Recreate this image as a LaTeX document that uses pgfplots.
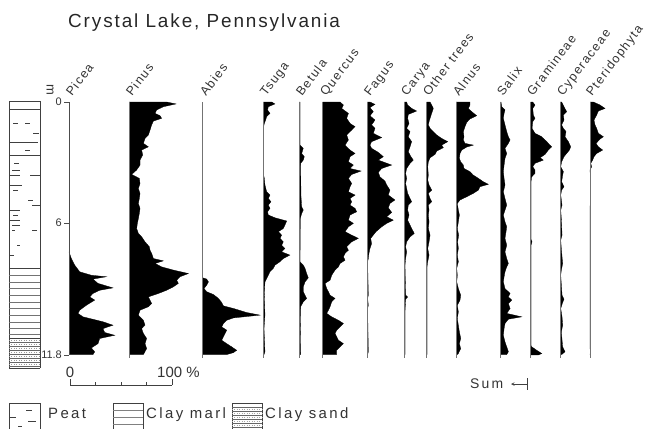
\documentclass[border=0pt]{standalone}
\usepackage{pgfplots}
\pgfplotsset{compat=1.18}
\usepackage{fontspec}
\setmainfont{Liberation Sans}
\newfontfamily\titlefont[LetterSpace=10]{Liberation Sans}
\newfontfamily\lblfont[LetterSpace=11]{Liberation Sans}
\newfontfamily\legfont[LetterSpace=16]{Liberation Sans}

\pgfplotsset{
  pollen/.style={anchor=origin, hide axis, clip=false, scale only axis,
    x=1.02bp, y=21.44bp, xmin=0, xmax=40, ymin=0, ymax=11.8, y dir=reverse},
  pfill/.style={fill=black, draw=black, line width=0.3pt},
}
\tikzset{base/.style={draw=black!55, line width=0.6pt},
  taxon/.style={rotate=53, anchor=base west, inner sep=0pt, text=black!80,
    font=\lblfont\fontsize{12.5}{15}\selectfont}}

\begin{document}
\begin{tikzpicture}
\path[use as bounding box] (0bp,0bp) rectangle (647bp,-429bp);

% Picea
\begin{axis}[pollen, at={(69bp,-102bp)}]
\addplot[pfill] coordinates {(0,6.99)(2.3,7.30)(5.6,7.61)(10.5,7.92)(21.9,8.08)(36.6,8.15)(23.5,8.26)(28.4,8.46)(43.1,8.67)(30.1,8.78)(23.5,8.93)(20.3,9.09)(25.2,9.24)(17,9.48)(10.5,9.71)(8.8,9.86)(13.7,10.02)(33.3,10.25)(43.1,10.41)(33.3,10.57)(35,10.75)(44.8,10.88)(30.1,11.03)(28.4,11.27)(21.9,11.47)(25.2,11.65)(23.5,11.78)(0,11.78)};
\end{axis}

% Pinus
\begin{axis}[pollen, at={(129bp,-102bp)}]
\addplot[pfill] coordinates {(0,0)(36.9,0)(46.1,0.09)(33.7,0.22)(27.1,0.37)(25.5,0.53)(30.4,0.64)(32,0.76)(23.9,0.89)(22.2,1.07)(20.6,1.31)(19,1.54)(15.7,1.70)(14.1,1.93)(19,2.09)(12.4,2.24)(13.4,2.47)(10.8,2.71)(10.8,2.94)(7.5,3.17)(2.6,3.38)(10.1,3.56)(10.8,3.80)(9.2,4.03)(10.8,4.26)(10.1,4.50)(9.2,4.73)(10.8,4.96)(10.1,5.20)(9.2,5.43)(8.2,5.66)(7.5,5.90)(9.2,6.13)(12.4,6.29)(15.7,6.52)(19.9,6.75)(20.6,6.91)(22.2,7.06)(23.9,7.30)(33.7,7.41)(25.5,7.53)(32,7.69)(43.5,7.84)(58.2,8.00)(50,8.15)(46.7,8.31)(48.4,8.46)(43.5,8.62)(36.9,8.78)(28.8,8.93)(19,9.09)(20.6,9.24)(22.2,9.40)(19,9.55)(10.8,9.71)(9.2,9.94)(14.1,10.18)(15.7,10.41)(12.4,10.57)(14.1,10.80)(17.3,11.03)(15.7,11.27)(17.3,11.50)(14.1,11.78)(0,11.78)};
\draw[base] (axis cs:0,0) -- (axis cs:0,11.95);
\end{axis}

% Abies
\begin{axis}[pollen, at={(202.7bp,-102bp)}]
\addplot[pfill] coordinates {(0,8.20)(3.9,8.26)(5.6,8.39)(3.9,8.54)(1.3,8.70)(3.9,8.85)(10.5,8.98)(15.4,9.16)(18.6,9.35)(20.3,9.51)(30.1,9.63)(43.1,9.82)(56.2,9.94)(30.1,10.07)(23.5,10.18)(20.3,10.33)(18.6,10.49)(23.5,10.64)(21.9,10.80)(20.3,10.95)(18.6,11.11)(23.5,11.27)(28.4,11.42)(33.3,11.58)(30.1,11.69)(23.5,11.78)(0,11.78)};
\draw[base] (axis cs:0,0) -- (axis cs:0,11.95);
\end{axis}

% Tsuga
\begin{axis}[pollen, at={(263.3bp,-102bp)}]
\addplot[pfill] coordinates {(0,0)(8.2,0)(11.4,0.09)(4.9,0.22)(4.2,0.37)(6.5,0.53)(3.3,0.68)(2.3,0.84)(1,1.00)(0.3,1.15)(0.3,3.41)(1,3.56)(1.6,3.87)(3.3,4.19)(6.5,4.34)(4.9,4.50)(7.5,4.65)(4.9,4.81)(6.5,4.96)(4.2,5.12)(4.9,5.27)(11.4,5.40)(22.9,5.55)(21.2,5.74)(19.6,5.90)(14.7,6.05)(18,6.21)(16.3,6.36)(19.6,6.52)(18,6.68)(21.2,6.83)(18,6.99)(26.1,7.14)(19.6,7.30)(16.3,7.45)(11.4,7.61)(9.8,7.76)(6.5,7.92)(4.9,8.08)(3.3,8.23)(1.6,8.39)(1,9.01)(1.6,9.94)(0.7,10.57)(1.6,11.65)(0.7,11.78)(0,11.78)};
\draw[base] (axis cs:0,0) -- (axis cs:0,11.95);
\end{axis}

% Betula
\begin{axis}[pollen, at={(299.3bp,-102bp)}]
\addplot[pfill] coordinates {(0,0)(0.7,0)(0.7,2.01)(3.9,2.16)(2.3,2.40)(4.9,2.55)(3.9,2.71)(1.3,2.86)(1.6,4.34)(2.3,4.89)(3.9,5.04)(2.3,5.20)(1,5.43)(0.7,7.45)(3.9,7.61)(5.6,7.76)(7.2,8.00)(8.8,8.20)(5.6,8.39)(3.9,8.62)(3.9,8.85)(5.6,9.01)(7.2,9.16)(3.9,9.32)(1.3,9.55)(1,10.57)(1.3,11.78)(0,11.78)};
\draw[base] (axis cs:0,0) -- (axis cs:0,11.95);
\end{axis}

% Quercus
\begin{axis}[pollen, at={(322.7bp,-102bp)}]
\addplot[pfill] coordinates {(0,0)(17,0)(20.3,0.14)(18.6,0.30)(25.2,0.53)(23.5,0.76)(26.8,1.00)(31.7,1.15)(28.4,1.31)(23.5,1.54)(25.2,1.77)(21.9,2.01)(26.8,2.24)(31.7,2.40)(26.8,2.55)(25.2,2.79)(30.1,2.94)(26.8,3.10)(37.6,3.22)(28.4,3.38)(25.2,3.56)(28.4,3.80)(26.8,3.95)(25.2,4.19)(31.7,4.34)(26.8,4.50)(28.4,4.65)(26.8,4.81)(31.7,4.96)(33.3,5.12)(26.8,5.27)(25.2,5.51)(30.1,5.66)(25.2,5.82)(21.9,6.05)(28.4,6.21)(35,6.36)(28.4,6.52)(23.5,6.75)(25.2,6.91)(21.9,7.06)(20.3,7.22)(21.9,7.38)(17,7.53)(15.4,7.69)(12.1,7.84)(8.8,8.08)(7.2,8.31)(2.3,8.46)(3.9,8.70)(5.6,8.85)(7.2,9.01)(12.1,9.16)(8.8,9.32)(7.2,9.55)(5.6,9.71)(3.9,9.86)(8.8,10.02)(15.4,10.18)(20.3,10.33)(17,10.49)(13.7,10.64)(12.1,10.80)(13.7,10.95)(15.4,11.11)(20.3,11.27)(17,11.42)(13.7,11.58)(13.7,11.78)(0,11.78)};
\draw[base] (axis cs:0,0) -- (axis cs:0,11.95);
\end{axis}

% Fagus
\begin{axis}[pollen, at={(367.3bp,-102bp)}]
\addplot[pfill] coordinates {(0,0)(2.6,0)(7.5,0.11)(2.6,0.26)(5.9,0.45)(2.6,0.64)(7.5,0.84)(4.2,1.07)(7.5,1.23)(5.9,1.46)(14.1,1.66)(4.2,1.85)(2.6,2.01)(4.2,2.16)(10.8,2.35)(15.7,2.55)(10.8,2.71)(23.9,2.94)(14.1,3.10)(10.8,3.28)(12.4,3.49)(17.3,3.69)(19,3.87)(22.2,4.11)(20.6,4.34)(27.1,4.57)(22.2,4.73)(20.6,4.93)(23.9,5.15)(19,5.35)(25.5,5.51)(19,5.66)(14.1,5.82)(8.5,6.05)(3.3,6.36)(4.2,6.60)(2.6,6.83)(1.6,7.06)(1,7.30)(0.3,7.45)(1,9.01)(0.3,9.16)(1,9.48)(0.3,9.63)(1,11.65)(0.3,11.78)(0,11.78)};
\draw[base] (axis cs:0,0) -- (axis cs:0,11.95);
\end{axis}

% Carya
\begin{axis}[pollen, at={(404.3bp,-102bp)}]
\addplot[pfill] coordinates {(0,0)(2.3,0)(3.3,0.14)(7.2,0.30)(12.1,0.42)(3.9,0.58)(3.3,0.76)(4.6,1.00)(2.3,1.23)(5.6,1.38)(3.9,1.62)(7.2,1.85)(5.6,2.09)(3.9,2.32)(6.5,2.55)(8.8,2.71)(5.6,2.86)(2.3,3.10)(1.3,3.33)(2.3,3.56)(1.3,3.80)(2.3,4.03)(3.3,4.26)(5.6,4.50)(7.2,4.65)(3.9,4.81)(3.3,5.04)(4.6,5.27)(3.3,5.51)(5.6,5.74)(7.2,5.90)(9.8,6.13)(5.6,6.29)(2.3,6.52)(1.3,6.75)(2.3,6.99)(1.3,7.30)(0.7,7.61)(1.3,9.01)(3.3,9.09)(1.3,9.20)(0.7,9.79)(0.7,11.78)(0,11.78)};
\draw[base] (axis cs:0,0) -- (axis cs:0,11.95);
\end{axis}

% Other trees
\begin{axis}[pollen, at={(426.7bp,-102bp)}]
\addplot[pfill] coordinates {(0,0)(3.3,0)(4.9,0.14)(6.5,0.30)(4.9,0.53)(3.3,0.76)(2.3,0.92)(1.6,1.07)(3.3,1.23)(6.5,1.38)(9.8,1.54)(14.7,1.70)(20.6,1.85)(14.7,2.01)(16.3,2.13)(9.8,2.29)(8.2,2.44)(3.3,2.60)(1.6,2.79)(1,3.02)(1.6,3.41)(1,3.64)(2.3,3.87)(4.9,4.11)(1.6,4.26)(3.3,4.50)(4.9,4.65)(1.6,4.81)(2.3,5.04)(1.6,5.27)(2.3,5.59)(1.6,5.90)(3.3,6.21)(2.3,6.52)(1,6.83)(2.3,7.14)(1,7.45)(0.3,7.69)(0.3,11.78)(0,11.78)};
\draw[base] (axis cs:0,0) -- (axis cs:0,11.95);
\end{axis}

% Alnus
\begin{axis}[pollen, at={(456bp,-102bp)}]
\addplot[pfill] coordinates {(0,0)(13.7,0)(13.7,0.14)(12.1,0.30)(15.4,0.45)(20.3,0.64)(13.7,0.79)(10.5,0.95)(8.8,1.15)(7.2,1.38)(7.8,1.62)(7.2,1.77)(8.8,1.93)(17,2.01)(10.5,2.10)(5.6,2.24)(3.9,2.40)(3.3,2.63)(4.6,2.79)(7.2,2.94)(7.8,3.10)(13.7,3.25)(17,3.41)(21.9,3.56)(26.8,3.72)(31.7,3.84)(23.5,3.95)(21.9,4.11)(17,4.26)(10.5,4.42)(3.9,4.57)(1.3,4.73)(2.3,5.04)(3.3,5.27)(2.3,5.59)(1.3,5.90)(2.6,6.21)(1.6,6.52)(2.3,6.83)(1.3,7.14)(2.3,7.45)(0.7,7.76)(1.3,8.08)(0.7,8.39)(2.3,8.70)(4.6,9.01)(3.9,9.24)(1.3,9.48)(2.3,9.79)(1.3,10.10)(2.3,10.41)(3.3,10.72)(4.6,11.03)(3.3,11.27)(4.6,11.50)(2.3,11.73)(1.3,11.78)(0,11.78)};
\draw[base] (axis cs:0,0) -- (axis cs:0,11.95);
\end{axis}

% Salix
\begin{axis}[pollen, at={(500.7bp,-102bp)}]
\addplot[pfill] coordinates {(0,0)(0.3,0)(1,0.22)(4.2,0.37)(3.3,0.53)(2.6,0.76)(4.2,1.07)(5.9,1.38)(7.5,1.62)(9.2,1.77)(7.5,1.93)(4.2,2.16)(5.9,2.40)(4.2,2.63)(3.3,2.94)(2.6,3.25)(3.3,3.56)(4.2,3.87)(2.6,4.19)(4.2,4.50)(5.9,4.81)(4.2,5.04)(2.6,5.27)(4.2,5.59)(5.9,5.82)(5.2,6.05)(4.2,6.36)(5.9,6.68)(4.2,6.99)(5.9,7.30)(7.5,7.53)(5.9,7.69)(4.2,7.92)(3.3,8.15)(2.6,8.39)(4.2,8.70)(9.2,8.93)(7.5,9.09)(10.8,9.24)(7.5,9.40)(9.2,9.63)(5.9,9.86)(20.6,10.02)(7.5,10.13)(4.2,10.33)(3.3,10.57)(2.6,10.88)(4.2,11.19)(5.9,11.42)(7.5,11.65)(5.9,11.78)(0,11.78)};
\draw[base] (axis cs:0,0) -- (axis cs:0,11.95);
\end{axis}

% Gramineae
\begin{axis}[pollen, at={(530.7bp,-102bp)}]
\addplot[pfill] coordinates {(0,0)(2,0)(4.2,0.14)(2,0.30)(2.6,0.61)(4.2,0.76)(2,0.92)(1.3,1.23)(4.2,1.46)(10.8,1.62)(15.7,1.85)(20.6,2.09)(17.3,2.24)(14.1,2.44)(9.2,2.60)(12.4,2.71)(4.2,2.86)(2,3.02)(4.2,3.17)(4.2,3.33)(1,3.49)(0.3,3.72)(0.3,6.40)(1.3,6.52)(0.3,6.68)(0.3,11.35)(1,11.42)(5.9,11.58)(10.8,11.73)(7.5,11.8)(0,11.8)};
\draw[base] (axis cs:0,0) -- (axis cs:0,11.95);
\end{axis}

% Cyperaceae
\begin{axis}[pollen, at={(560bp,-102bp)}]
\addplot[pfill] coordinates {(0,0)(1.6,0)(3.9,0.22)(6.5,0.45)(3.3,0.61)(3.9,0.84)(1.6,1.07)(3.3,1.23)(5.9,1.38)(4.9,1.62)(8.2,1.85)(10.5,2.09)(9.2,2.24)(6.5,2.40)(3.9,2.55)(1.6,2.79)(0.7,3.02)(3.3,3.25)(2.6,3.41)(1.6,3.72)(3.9,3.95)(1.6,4.11)(0.7,4.34)(2,4.81)(0.7,5.04)(1.3,5.43)(2,6.21)(0.7,6.44)(1.3,6.83)(2,7.22)(2.6,7.53)(1.3,7.84)(0.7,8.08)(2,9.01)(3.9,9.20)(2.6,9.35)(0.7,9.63)(2,10.02)(2.6,10.41)(1.3,10.72)(2.6,11.42)(4.9,11.65)(1.6,11.78)(0,11.78)};
\draw[base] (axis cs:0,0) -- (axis cs:0,11.95);
\end{axis}

% Pteridophyta
\begin{axis}[pollen, at={(590bp,-102bp)}]
\addplot[pfill] coordinates {(0,0)(3.3,0)(9.8,0.14)(14.7,0.30)(8.2,0.42)(6.5,0.61)(3.9,0.84)(4.9,1.07)(6.5,1.23)(8.2,1.46)(13.1,1.62)(9.8,1.73)(5.9,1.93)(8.2,2.09)(12.4,2.24)(6.5,2.40)(3.9,2.55)(2.6,2.71)(0.7,2.86)(1.6,3.02)(0,3.17)(0.7,3.72)(0.7,4.34)(0,4.96)(0,11.5)(0.7,11.65)(0,11.78)};
\draw[base] (axis cs:0,0) -- (axis cs:0,11.95);
\end{axis}

\begin{scope}[x=1bp, y=1bp]
% title
\node[anchor=base west, inner sep=0pt, text=black!85,
  font=\titlefont\fontsize{19}{22}\selectfont] at (68,-27) {Crystal Lake, Pennsylvania};

% lithology column
\begin{scope}[black!75, line width=0.5pt]
\draw (9,-101) -- (40,-101);
\draw (9,-101) -- (9,-368) (40,-101) -- (40,-368) (9,-368) -- (40,-368);
\foreach \y/\a/\b in {109/9/40, 123/13/18, 123/25/30, 133/33/39, 142/9/38,
  150/25/30, 155/9/40, 163/14/19, 170/12/20, 175/9/20, 175/30/40, 185/9/22,
  190/13/18, 200/28/33, 205/32/40, 210/9/20, 215/13/18, 220/9/20, 225/12/20,
  230/12/15, 230/32/37, 245/17/20, 255/9/14}
  \draw (\a,-\y) -- (\b,-\y);
\draw[line width=0.8pt] (9,-268) -- (40,-268);
\foreach \y in {275,282,288,295,302,308,315,322,328,334}
  \draw[black!55] (9,-\y) -- (40,-\y);
\draw[line width=0.8pt] (9,-338) -- (40,-338);
\foreach \y in {342,346,350,354,358,362,366}
  \draw[black!60] (9,-\y) -- (40,-\y);
\foreach \y in {340,344,348,352,356,360,364}
  \draw[black!40, dotted] (9,-\y) -- (40,-\y);
\end{scope}

% depth axis
\draw[black!70, line width=0.6pt] (69,-102) -- (69,-355);
\foreach \y/\t in {102/0, 223/6, 355/11.8} {
  \draw[black!70, line width=0.6pt] (64,-\y) -- (69,-\y);
  \node[anchor=east, inner sep=0pt, text=black!80, font=\fontsize{11}{13}\selectfont]
    at (62,-\y) {\t};
}
\node[rotate=-90, inner sep=0pt, text=black!80, font=\fontsize{13}{15}\selectfont] at (50,-90) {m};

% taxon names
\foreach \xx/\nm in {72/Picea, 132/Pinus, 206/Abies, 266/Tsuga, 302/Betula,
  326/Quercus, 370/Fagus, 407/Carya, 429/Other trees, 459/Alnus, 503/Salix,
  533/Gramineae, 563/Cyperaceae, 592/Pteridophyta}
  \node[taxon] at (\xx,-97) {\nm};

% percent scale bar
\draw[black!75, line width=0.6pt] (70,-385) -- (172,-385);
\draw[black!75, line width=0.6pt] (70,-379) -- (70,-385) (172,-379) -- (172,-385);
\foreach \xx in {95.5,121,146.5} \draw[black!75, line width=0.6pt] (\xx,-382) -- (\xx,-385);
\node[anchor=base, inner sep=0pt, text=black!80, font=\fontsize{15}{17}\selectfont] at (70,-377) {0};
\node[anchor=base west, inner sep=0pt, text=black!80, font=\fontsize{15}{17}\selectfont] at (157,-377) {100 \%};

% Sum marker
\node[anchor=base west, inner sep=0pt, text=black!80, font=\legfont\fontsize{14}{16}\selectfont] at (470,-388) {Sum};
\draw[black!75, line width=0.6pt, -stealth] (527,-384) -- (511,-384);
\draw[black!75, line width=0.6pt] (527,-378) -- (527,-390);

% lithology legend
\begin{scope}[black!75, line width=0.5pt]
\draw (9,-429) -- (9,-403) -- (40,-403) -- (40,-429);
\draw (26,-410) -- (32,-410) (9,-417) -- (16,-417) (28,-421) -- (36,-421) (18,-426) -- (22,-426);
\draw (113,-429) -- (113,-403) -- (143,-403) -- (143,-429);
\foreach \y in {410,417,424} \draw[black!50] (113,-\y) -- (143,-\y);
\draw (232,-429) -- (232,-403) -- (262,-403) -- (262,-429);
\foreach \y in {407,411,415,419,423,427} \draw[black!60] (232,-\y) -- (262,-\y);
\foreach \y in {409,413,417,421,425} \draw[black!35, dotted] (232,-\y) -- (262,-\y);
\end{scope}
\foreach \xx/\t in {48/Peat, 146/Clay marl, 265/Clay sand}
  \node[anchor=base west, inner sep=0pt, text=black!80, font=\legfont\fontsize{15}{17}\selectfont]
    at (\xx,-418) {\t};
\end{scope}
\end{tikzpicture}
\end{document}
